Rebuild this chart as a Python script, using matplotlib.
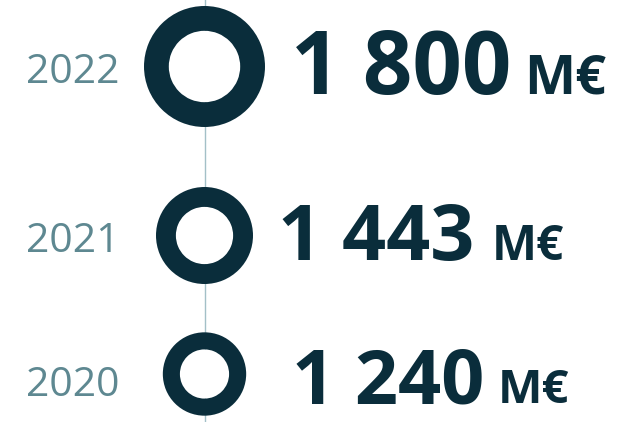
import matplotlib
matplotlib.use("Agg")
import matplotlib.pyplot as plt
from matplotlib.patches import Wedge, Circle

# ---- data ----
years = ["2022", "2021", "2020"]
values = [1800, 1443, 1240]
value_labels = ["1 800", "1 443", "1 240"]
unit = "M€"

# ---- style / layout ----
W, H = 620, 422
dark = "#0a2d3b"
year_col = "#5e8891"
line_col = "#a3c0c7"
line_x = 204.5
centers_y = [66.5, 235.5, 374]
px_per_value = 60.5 / 1800.0
inner_frac = 0.59
value_font_pt = [62.5, 55.5, 54.5]
unit_font_pt = [39, 34.5, 34]
unit_gap = [13, 17, 13]
value_x = [291, 278, 292]
value_base = [94, 260, 403]
year_x = 26
year_base = [83, 252, 396]

fig = plt.figure(figsize=(W / 100, H / 100), dpi=100)
ax = fig.add_axes([0, 0, 1, 1])
ax.set_xlim(0, W)
ax.set_ylim(H, 0)
ax.set_aspect("equal")
ax.axis("off")

ax.plot([line_x, line_x], [0, H], color=line_col, lw=1.0, zorder=1)

for i, (yr, v, lab) in enumerate(zip(years, values, value_labels)):
    r = v * px_per_value
    ax.add_patch(Circle((line_x, centers_y[i]), r * inner_frac,
                        facecolor="white", edgecolor="none", zorder=2))
    ax.add_patch(Wedge((line_x, centers_y[i]), r, 0, 360,
                       width=r * (1 - inner_frac),
                       facecolor=dark, edgecolor="none", zorder=3))
    ax.text(year_x, year_base[i], yr, fontfamily="Open Sans", fontsize=29.5,
            color=year_col, ha="left", va="baseline")
    t = ax.text(value_x[i], value_base[i], lab, fontfamily="Open Sans",
                fontweight="bold", fontsize=value_font_pt[i], color=dark,
                ha="left", va="baseline")
    fig.canvas.draw()
    bb = t.get_window_extent()
    x_end = ax.transData.inverted().transform((bb.x1, bb.y0))[0]
    ax.text(x_end + unit_gap[i], value_base[i], unit, fontfamily="Open Sans",
            fontweight="bold", fontsize=unit_font_pt[i], color=dark,
            ha="left", va="baseline")

fig.savefig("out.png", dpi=100)
